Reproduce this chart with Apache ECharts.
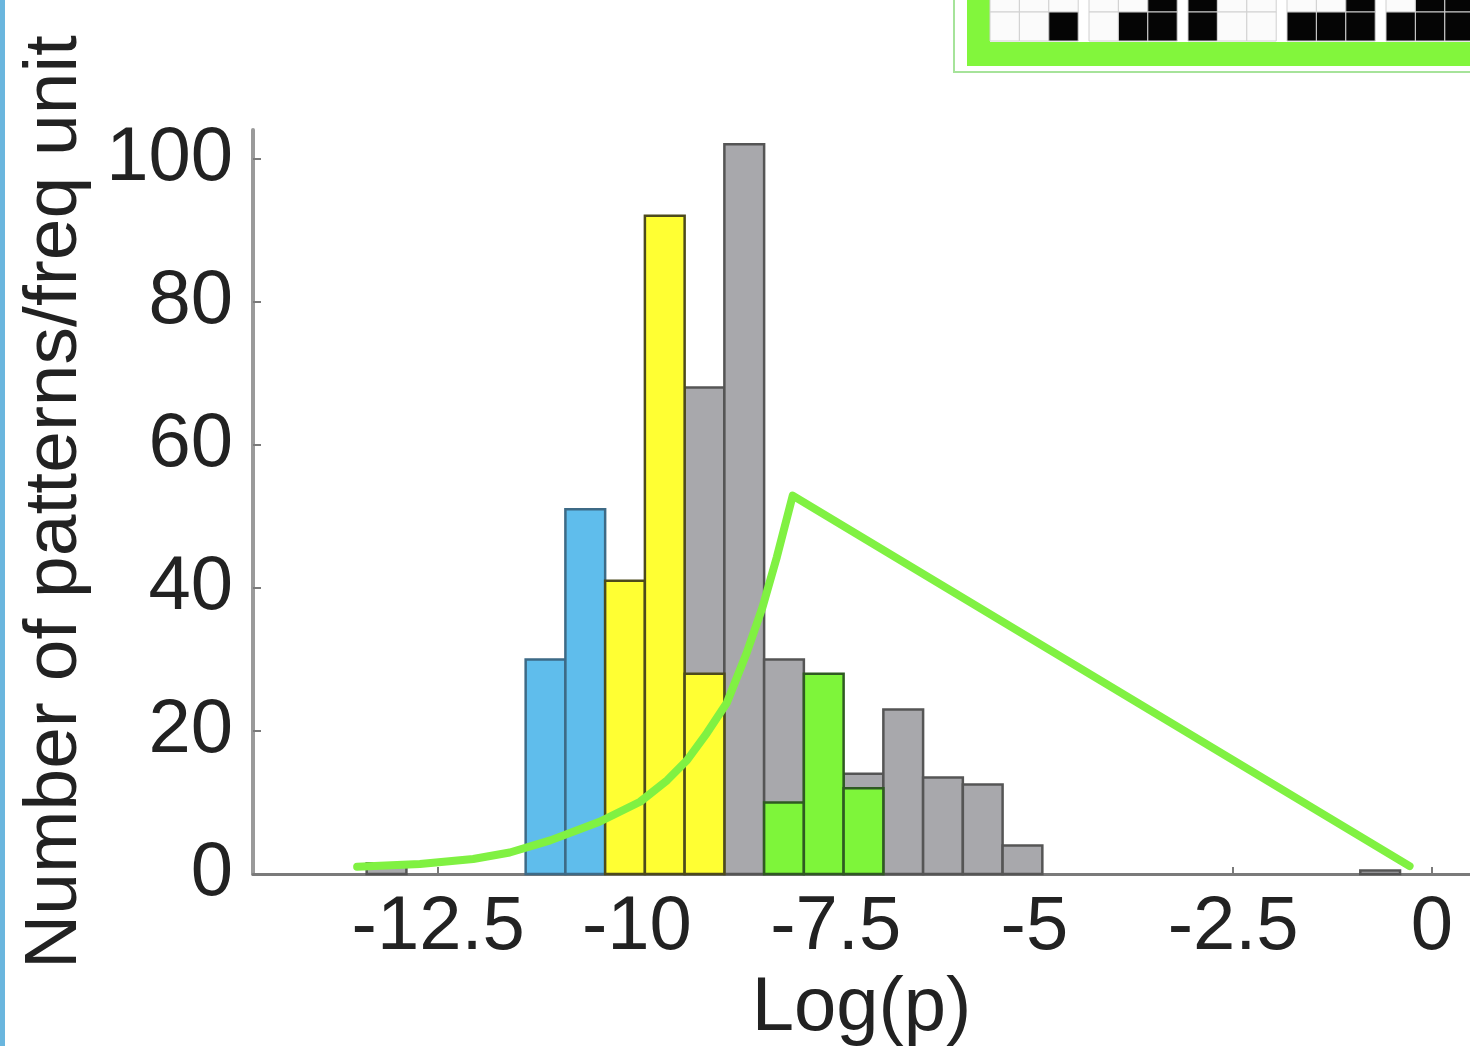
<!DOCTYPE html>
<html>
<head>
<meta charset="utf-8">
<script src="https://cdn.jsdelivr.net/npm/echarts@6/dist/echarts.min.js"></script>
<style>
html,body{margin:0;padding:0;background:#fff;}
#c{width:1470px;height:1046px;}
</style>
</head>
<body>
<div id="c"></div>
<script>
// ---- data ----
const binWidth = 0.5;
const grayX = [-13.15, -9.15, -8.65, -8.15, -7.15, -6.65, -6.15, -5.65, -5.15, -0.65];
const grayY = [1.5, 68, 102, 30, 14, 23, 13.5, 12.5, 4, 0.5];
const blueX = [-11.15, -10.65];
const blueY = [30, 51];
const yellowX = [-10.15, -9.65, -9.15];
const yellowY = [41, 92, 28];
const greenX = [-8.15, -7.65, -7.15];
const greenY = [10, 28, 12];
const lineX = [-13.52, -12.73, -12.06, -11.6, -11.09, -10.47, -9.96, -9.62, -9.37, -9.12, -8.87, -8.62, -8.42, -8.24, -8.04, -0.28];
const lineY = [1.0, 1.4, 2.1, 3.0, 4.7, 7.3, 10.1, 13.1, 15.9, 19.7, 23.9, 30.9, 37.3, 44.3, 52.9, 1.1];
const xTicks = [-12.5, -10, -7.5, -5, -2.5, 0];
const yTicks = [0, 20, 40, 60, 80, 100];
// inset pattern (decorative grid fragment): rows of 5 groups x 3 cells
const insetRow0 = [0,0,0, 0,0,1, 1,0,0, 0,0,1, 0,1,1];
const insetRow1 = [0,0,1, 0,1,1, 1,0,0, 1,1,1, 1,1,1];

const zip = (a, b) => a.map((v, i) => [v, b[i]]);

function histSeries(name, xs, ys, fill, stroke, z) {
  return {
    name: name,
    type: 'custom',
    z: z,
    data: zip(xs, ys),
    renderItem: function (params, api) {
      const x = api.value(0), v = api.value(1);
      const p0 = api.coord([x - binWidth / 2, v]);
      const p1 = api.coord([x + binWidth / 2, 0]);
      return {
        type: 'rect',
        shape: { x: p0[0], y: p0[1], width: p1[0] - p0[0], height: p1[1] - p0[1] },
        style: { fill: fill, stroke: stroke, lineWidth: 2.5 }
      };
    }
  };
}

const FONT = 'Liberation Sans, Arial, sans-serif';

// inset graphic
const insetChildren = [];
insetChildren.push({ type: 'rect', shape: { x: 954, y: -10, width: 530, height: 82 }, style: { fill: '#ffffff', stroke: '#a6e39a', lineWidth: 2 } });
insetChildren.push({ type: 'rect', shape: { x: 967, y: -10, width: 23, height: 76 }, style: { fill: '#82f63c' } });
insetChildren.push({ type: 'rect', shape: { x: 967, y: 42, width: 510, height: 24 }, style: { fill: '#82f63c' } });
[insetRow0, insetRow1].forEach(function (row, r) {
  row.forEach(function (b, i) {
    const g = Math.floor(i / 3), c = i % 3;
    const x = 990 + g * 99 + c * 29.4;
    const y = r === 0 ? -17 : 12;
    insetChildren.push({ type: 'rect', shape: { x: x, y: y, width: 29.4, height: 29 },
      style: { fill: b ? '#050505' : '#fbfbfb', stroke: '#d0d0d0', lineWidth: 1 } });
  });
});

const chart = echarts.init(document.getElementById('c'));
chart.setOption({
  backgroundColor: '#ffffff',
  animation: false,
  grid: { left: 253, right: 0, top: 130, bottom: 172, containLabel: false, outerBoundsMode: 'none' },
  xAxis: {
    type: 'value',
    min: -14.83, max: 0.48,
    name: 'Log(p)',
    nameLocation: 'middle',
    nameGap: 97,
    nameTextStyle: { fontSize: 76, fontFamily: FONT, color: '#222' },
    axisLine: { onZero: false, lineStyle: { color: '#7a7a7a', width: 3 } },
    axisTick: { show: true, inside: true, length: 7, customValues: xTicks, lineStyle: { color: '#7a7a7a', width: 2 } },
    axisLabel: { customValues: xTicks, margin: 16, fontSize: 76, fontFamily: FONT, color: '#222',
      formatter: function (v) { return String(v); } },
    splitLine: { show: false }
  },
  yAxis: {
    type: 'value',
    min: 0, max: 104,
    name: 'Number of patterns/freq unit',
    nameLocation: 'middle',
    nameRotate: 90,
    nameGap: 160,
    nameTextStyle: { fontSize: 75, fontFamily: FONT, color: '#222' },
    axisLine: { show: true, onZero: false, lineStyle: { color: '#9a9a9a', width: 4 } },
    axisTick: { show: true, inside: true, length: 8, customValues: yTicks, lineStyle: { color: '#7a7a7a', width: 2 } },
    axisLabel: { customValues: yTicks, margin: 20, fontSize: 76, fontFamily: FONT, color: '#222' },
    splitLine: { show: false }
  },
  series: [
    histSeries('gray', grayX, grayY, '#a8a8ac', '#555555', 2),
    histSeries('blue', blueX, blueY, '#5fbdec', '#3d6a86', 3),
    histSeries('yellow', yellowX, yellowY, '#ffff33', '#4d4a1c', 3),
    histSeries('green', greenX, greenY, '#7ef53a', '#2f5a22', 3),
    {
      name: 'fit',
      type: 'line',
      z: 6,
      data: zip(lineX, lineY),
      symbol: 'none',
      smooth: false,
      lineStyle: { color: '#80f142', width: 8, join: 'round', cap: 'round' }
    }
  ],
  graphic: [
    { type: 'rect', shape: { x: 0, y: 0, width: 5, height: 1046 }, style: { fill: '#6ab6de' } },
    { type: 'group', children: insetChildren }
  ]
});
</script>
</body>
</html>
